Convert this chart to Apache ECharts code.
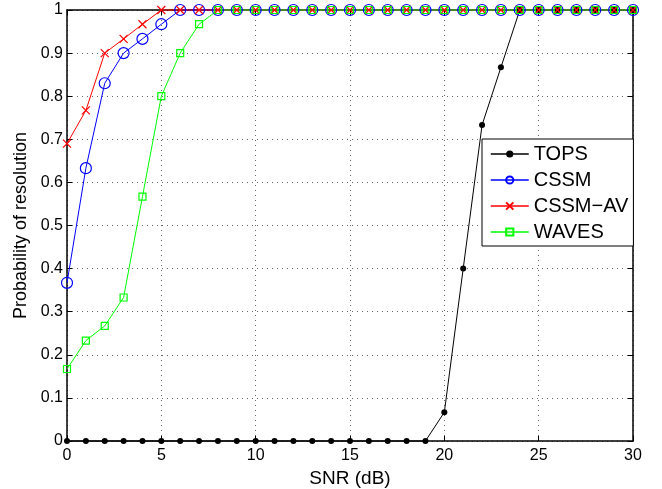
<!DOCTYPE html>
<html>
<head>
<meta charset="utf-8">
<script src="https://cdn.jsdelivr.net/npm/echarts@6/dist/echarts.min.js"></script>
<style>
  html, body { margin: 0; padding: 0; background: #fff; }
  #chart { width: 662px; height: 489px; }
</style>
</head>
<body>
<div id="chart"></div>
<script>
var snr = [];
for (var i = 0; i <= 30; i++) snr.push(i);

// probability of resolution, one value per SNR step (0..30 dB)
var tops = [0,0,0,0,0,0,0,0,0,0, 0,0,0,0,0,0,0,0,0,0, 0.0667,0.4,0.733,0.867,1, 1,1,1,1,1,1];
var cssm = [0.367,0.633,0.83,0.9,0.933,0.967,1,1,1,1, 1,1,1,1,1,1,1,1,1,1, 1,1,1,1,1,1,1,1,1,1,1];
var cssmAv = [0.69,0.767,0.9,0.933,0.967,1,1,1,1,1, 1,1,1,1,1,1,1,1,1,1, 1,1,1,1,1,1,1,1,1,1,1];
var waves = [0.167,0.233,0.267,0.333,0.567,0.8,0.9,0.967,1,1, 1,1,1,1,1,1,1,1,1,1, 1,1,1,1,1,1,1,1,1,1,1];

var pairs = function (ys) {
    var res = [];
    for (var i = 0; i < ys.length; i++) res.push([snr[i], ys[i]]);
    return res;
};

var font = 'Liberation Sans, Arial, sans-serif';
var crossPath = 'path://M0,0L10,10M10,0L0,10';

var myChart = echarts.init(document.getElementById('chart'));

var frameAxis = {
    axisLine: { show: true, onZero: false, lineStyle: { color: '#000', width: 1.5 } },
    axisTick: { show: true, inside: true, length: 5, lineStyle: { color: '#000' } },
    axisLabel: { show: false },
    splitLine: { show: false }
};

option = {
    backgroundColor: '#fff',
    animation: false,
    grid: { left: 67, right: 29, top: 10, bottom: 48, outerBoundsMode: 'none' },
    xAxis: [
        {
            type: 'value', min: 0, max: 30, interval: 5,
            name: 'SNR (dB)', nameLocation: 'middle', nameGap: 25,
            nameTextStyle: { fontFamily: font, fontSize: 19, color: '#000' },
            axisLine: { show: true, onZero: false, lineStyle: { color: '#000', width: 1.5 } },
            axisTick: { show: true, inside: true, length: 5, lineStyle: { color: '#000' } },
            axisLabel: { fontFamily: font, fontSize: 16, color: '#000', margin: 7 },
            splitLine: { show: true, lineStyle: { type: [1, 4], color: '#666', width: 1 } }
        },
        Object.assign({ type: 'value', min: 0, max: 30, interval: 5, position: 'top' }, frameAxis)
    ],
    yAxis: [
        {
            type: 'value', min: 0, max: 1, interval: 0.1,
            name: 'Probability of resolution', nameLocation: 'middle', nameGap: 35,
            nameTextStyle: { fontFamily: font, fontSize: 18, color: '#000' },
            axisLine: { show: true, onZero: false, lineStyle: { color: '#000', width: 1.5 } },
            axisTick: { show: true, inside: true, length: 5, lineStyle: { color: '#000' } },
            axisLabel: { fontFamily: font, fontSize: 16, color: '#000', margin: 4 },
            splitLine: { show: true, lineStyle: { type: [1, 4], color: '#666', width: 1 } }
        },
        Object.assign({ type: 'value', min: 0, max: 1, interval: 0.1, position: 'right' }, frameAxis)
    ],
    legend: {
        orient: 'vertical',
        left: 482, top: 139,
        padding: [5, 5, 4, 8],
        itemGap: 6,
        itemWidth: 38, itemHeight: 9,
        backgroundColor: '#fff',
        borderColor: '#000', borderWidth: 1, borderRadius: 0,
        textStyle: { fontFamily: font, fontSize: 20, lineHeight: 20, color: '#000' },
        lineStyle: { width: 1.5 },
        data: ['TOPS', 'CSSM', 'CSSM−AV', 'WAVES']
    },
    series: [
        {
            name: 'TOPS', type: 'line', data: pairs(tops), clip: false,
            symbol: 'circle', symbolSize: 6,
            itemStyle: { color: '#000' },
            lineStyle: { color: '#000', width: 1 }
        },
        {
            name: 'CSSM', type: 'line', data: pairs(cssm), clip: false,
            symbol: 'circle', symbolSize: 11,
            itemStyle: { color: 'rgba(0,0,0,0)', borderColor: '#0000ff', borderWidth: 1.2 },
            lineStyle: { color: '#0000ff', width: 1 }
        },
        {
            name: 'CSSM−AV', type: 'line', data: pairs(cssmAv), clip: false,
            symbol: crossPath, symbolSize: 8, symbolKeepAspect: true,
            itemStyle: { color: '#ff0000', borderColor: '#ff0000', borderWidth: 1.2 },
            lineStyle: { color: '#ff0000', width: 1 }
        },
        {
            name: 'WAVES', type: 'line', data: pairs(waves), clip: false,
            symbol: 'rect', symbolSize: 7,
            itemStyle: { color: 'rgba(0,0,0,0)', borderColor: '#00ff00', borderWidth: 1.2 },
            lineStyle: { color: '#00ff00', width: 1 }
        }
    ]
};
myChart.setOption(option);
</script>
</body>
</html>
